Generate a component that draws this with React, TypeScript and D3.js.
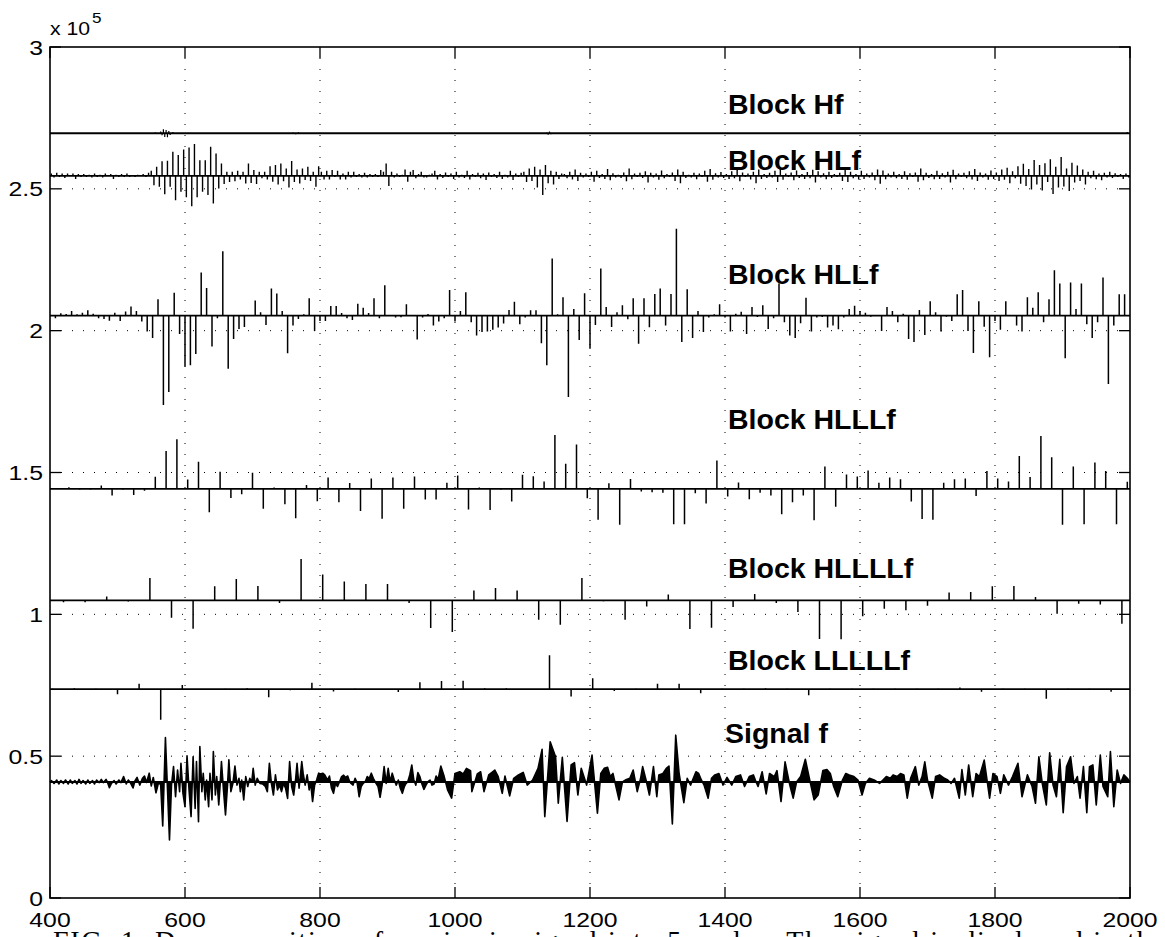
import * as d3 from 'd3';

// axis ranges
const xDomain = [400, 2000];
const yDomain = [0, 300000];
const xTicks = [400, 600, 800, 1000, 1200, 1400, 1600, 1800, 2000];
const yTicks = [0, 50000, 100000, 150000, 200000, 250000, 300000];
const yTickLabels = ['0', '0.5', '1', '1.5', '2', '2.5', '3'];

// offsets where each block is drawn
const blockBase = {
  hf: 269600,
  hlf: 254600,
  hllf: 205300,
  hlllf: 144200,
  hllllf: 104900,
  lllllf: 73600,
  signal: 40900,
};

// Block Hf: almost flat, only a few visible wiggles [x, value]
const hfSpikes = [
  [556, 300], [560, -300], [564, 600], [566, -700], [568, 1400], [570, -1300],
  [572, 1100], [574, -1400], [576, 800], [578, -600], [582, 400], [586, -300],
  [760, 300], [764, -350], [768, 350], [772, -300],
  [1136, 300], [1138, -500], [1140, 600], [1142, -400], [1996, 400],
];

// Block HLf coefficients, every 4 samples from 402, in thousands
const hlfStart = 402;
const hlfK = [
  0.8, -0.6, 1.1, -0.4, 0.8, -0.8, 0.8, -0.1, 0.8, -1.1, 0.6, -0.4, 0.6, -0.4, 0.4, -0.6, 0.8, -0.4, 0.4, -0.6,
  0.8, -0.1, 0.6, -1.1, 0.4, -0.4, 0.6, -0.4, 0.8, -0.4, 0.2, -0.4, 0.4, -0.1, 0.6, -0.4, 1.1, 1.8, -3.3, 3.2,
  -3.9, 5.1, -6.5, 5.3, -3.9, 8.5, -8.6, 7.3, -5.6, 9.3, -7.6, 10.0, -10.7, 11.2, -7.6, 5.5, -5.6, 5.5, -6.8, 10.2,
  -9.8, 7.9, -4.5, 4.3, -2.9, 1.4, -2.2, 1.4, -1.9, 1.8, -1.3, 1.4, -2.7, 4.3, -2.5, 2.0, -2.9, 1.4, -0.9, 1.4,
  -1.3, 3.4, -2.1, 3.8, -3.1, 4.3, -1.9, 2.6, -4.1, 5.2, -2.2, 2.2, -2.7, 2.6, -1.5, 3.2, -1.8, 1.4, -3.9, 3.4,
  1.4, -1.3, 1.8, -1.3, 2.0, -0.4, 1.8, -1.3, 0.8, -1.3, 1.4, -0.6, 1.4, -0.4, 0.6, -0.6, 1.1, -0.6, 0.6, -0.4,
  0.6, -0.4, 2.0, 1.4, 4.3, -3.6, 1.4, -0.6, 0.8, -0.4, 0.4, 2.2, -2.1, 1.4, 2.0, -0.9, 0.6, 1.4, -0.6, -0.6,
  0.4, 0.8, 1.8, -1.3,
  0.6, -0.8, 1.2, -0.4, 0.8, -1.1, 1.4, -0.6, 0.4, -0.8, 1.8, -1.3, 0.6, -0.4, 1.1, -0.9, 0.8, -1.5, 1.2, -0.4,
  0.6, -0.8, 1.4, -1.1, 0.4, -0.6, 1.8, -1.5, 0.8, -0.4, 1.1,
  1.4, -2.2, 2.6, -1.8, 3.2, -4.1, 2.2, -6.8, 3.8, -2.6, 1.8, -3.1, 1.4, -1.1, 0.8,
  0.6, -0.9, 1.4, -1.3, 2.2, -1.8, 1.1, -0.6, 0.8, -0.4, 1.4, -2.1, 1.8, -0.8, 0.6, -1.1, 2.4, -1.6, 0.9, -0.6,
  0.4, -0.8, 1.2, -1.9, 2.6, -1.2, 0.8, -0.4, 1.1, -0.8, 1.6, -2.4, 1.1, -0.6, 0.8, -1.4, 1.9, -0.9, 0.6, -0.4,
  1.2, -1.8, 2.2, -2.6, 1.4, -0.8, 0.4, -0.6, 1.1, -1.2, 0.8, -0.4, 1.8, -2.1, 2.4, -1.4, 0.9, -0.6, 1.3, -0.8,
  0.6, -1.1, 1.6, -0.9, 2.1, -1.9, 1.2, -0.4, 0.8, -1.3, 1.4, -2.6, 2.2, -1.1, 0.6, -0.8, 1.1, -0.6, 1.8, -2.2,
  2.6, -1.4, 0.8, -0.4, 1.2, -1.6, 1.9, -0.8, 0.6, -1.1, 1.3, -0.9, 2.1, -2.4, 1.6, -0.6, 0.9, -1.2, 1.4, -0.8,
  0.6, -0.4, 1.1, -1.8, 2.8, -2.2, 1.4, -0.9, 0.6, -1.3, 1.8, -1.1, 0.8, -0.6, 1.2, -1.6, 2.2, -2.8, 1.9, -1.2,
  0.8, -0.6, 1.4, -0.9, 0.6, -1.1, 1.6, -1.4, 0.9, -0.4, 1.2, -2.1, 2.6, -1.6, 1.1, -0.8, 0.6, -1.2, 1.8, -1.1,
  0.9, -0.6, 1.4, -2.4, 2.1, -1.2, 0.8, -0.4, 1.1, -0.9, 1.6, -1.3, 2.4, -1.8, 1.2, -0.6, 0.8, -1.4, 1.9, -1.1,
  1.2, -1.8, 2.2, -1.4, 2.8, -2.6, 1.6, -0.9, 3.4, -2.8, 4.2, -3.6, 2.4, -4.8, 5.6, -3.1, 3.8, -5.2, 4.4, -2.2,
  5.8, -6.4, 3.2, -4.1, 6.6, -3.8, 2.6, -5.4, 4.6, -2.4, 3.6, -1.8, 2.2, -3.1, 1.4, -0.9, 1.8, -1.2, 0.8, -1.6,
  1.1, -0.6, 1.4, -0.8, 0.9, -0.4, 0.6, -1.1, 0.8, -0.6,
];

// Block HLLf coefficients, every 8 samples from 408, in thousands
const hllfStart = 408;
const hllfK = [
  -0.9, 0.8, 0.6, 1.6, 0.5, 1.0, 1.9, 0.7, -0.9, -1.2, -1.8, 1.0, -1.9, 1.5, 3.2, 1.6, -2.1, -5.6, -7.9, 5.8,
  -31.5, -26.9, 8.1, -6.5, -17.9, -17.5, -13.5, 15.2, 9.7, -10.9, -0.9, 22.7, -18.7, -8.2, -4.7, -4.0, 0.2, 5.3, 1.2, -3.3,
  9.6, 7.8, 1.6, -13.3, -3.5, -1.2, 0.5, 6.1, -5.4, -1.9, -1.9, 3.4, 3.4, 0.9, -0.9, -1.5, 4.2, 2.8, 0.9, 6.1,
  -0.9, 10.7, 0.2, -0.7, -0.6, 4.0, 0.0, -8.4, -0.7, 0.6, -3.5, -2.1, -0.9, 9.0, -2.1, 1.6, 8.2, -2.3, -7.0, -5.8,
  -5.6, -5.0, -4.2, -2.8, 2.0, 4.9, -3.0, -0.7, 1.9, 1.9, -9.7, -17.5, 20.1, 0.5, 6.5, -28.7, 2.3, -8.6, 7.9, -11.7,
  -3.3, 16.6, 3.0, -4.0, 1.2, 3.7, -1.3, 6.1, -9.9, 6.1, -4.1, 7.6, 9.6, -3.5, 7.6, 30.6, -9.3, 9.3, -7.9, 1.6,
  -5.8, -0.7, 0.5, 4.0, -0.7, -5.6, 0.7, 1.4, -6.5, 3.0, -0.5, 3.7, -4.7, -0.9, 11.3, -2.3, -7.0, -7.9, -2.7, 6.3,
  -5.6, -0.7, -0.5, -4.2, -3.5, -4.8, -0.7, 2.3, 3.5, 1.6, 1.0, -0.4, 0.0, -5.4, 3.0, 1.6, -2.3, 0.7, -8.2, -9.3,
  2.0, -6.8, 5.1, 1.2, -5.6, -0.4, -1.9, 7.5, 9.0, -5.4, -13.2, 5.1, -3.9, -14.7, -1.9, -5.0, 5.1, 0.0, -3.5, -5.6,
  6.5, 2.8, 8.2, -2.3, 5.8, 16.0, 11.3, -15.0, 11.7, 2.3, 11.3, -3.0, -7.9, -2.3, 13.4, -24.1, -3.5, 7.5, 7.5,
];

// Block HLLLf coefficients, every 16 samples from 412, in thousands
const hlllfStart = 412;
const hlllfK = [
  0.1, 0.6, -0.2, -0.2, 1.2, -2.3, -0.2, -2.1, -0.6, 4.3, 13.4, 17.5, 3.3, 9.6, -8.2, 6.1, -3.2, -1.9, 5.7, -7.0,
  0.5, -5.4, -10.3, 1.4, -4.3, 4.0, -4.7, 2.1, -7.8, 3.7, -10.5, 4.0, -7.0, 4.4, -3.7, -3.7, 2.2, 4.7, -7.2, 0.5,
  -7.4, -0.2, -4.4, 5.0, 4.5, 2.6, 19.0, 8.9, 15.7, -3.3, -10.9, 2.0, -12.6, 3.5, -0.9, -1.2, -1.3, -12.4, -12.4, -1.5,
  -5.1, 10.0, -2.7, 2.3, -3.6, -1.3, -2.3, -8.9, -4.7, -2.3, -11.0, 7.9, -6.3, 5.1, 4.4, 6.5, 2.2, 4.0, 3.4, -4.4,
  -10.6, -10.9, 2.2, 3.4, 3.7, -2.5, 6.3, 3.7, 2.6, 11.6, 4.2, 18.7, 11.2, -12.6, 7.9, -12.4, 9.3, 6.3, -12.4, 2.5,
];

// Block HLLLLf coefficients, every 32 samples from 420, in thousands
const hllllfStart = 420;
const hllllfK = [
  -0.6, -0.6, 1.4, -0.4, 7.9, -6.1, -10.0, 5.0, 7.6, 5.1, -0.9, 14.6, 9.1, 6.7, 5.8, 5.8, -0.9, -9.7, -11.1, 3.5,
  4.4, 3.5, -6.8, -8.6, 7.9, -0.3, -6.8, -2.1, 2.1, -10.1, -9.6, -2.3, 2.3, -0.9, -4.1, -13.6, -13.7, -5.6, -2.9, -3.5,
  -1.9, 2.8, 3.0, 5.0, 5.1, 1.2, -4.7, -1.2, -1.4, -8.2,
];

// Block LLLLLf coefficients, every 32 samples from 404, in thousands
const lllllfStart = 404;
const lllllfK = [
  0.2, 0.3, 0.2, -1.8, 1.9, -10.8, 1.5, -0.3, 0.2, 0.3, -2.8, -0.4, 2.3, -0.8, 0.2, -0.2, -1.0, 2.5, 2.9, 3.0,
  0.3, 0.3, -0.3, 12.0, -2.6, 3.9, -0.6, 0.2, 1.9, 1.9, -1.4, 0.2, 0.2, 0.3, 0.2, -2.1, 0.2, 0.2, 0.2, 0.2,
  0.2, 0.2, 0.6, -0.9, 0.2, 0.2, -3.4, 0.2, 0.2, -0.9,
];

// Signal f: turning points [x, value]
const signalPeaks = [
  [400, 0], [402, 500], [406, -500], [410, 700], [413, -700], [416, 500], [420, -500], [423, 700], [427, -700], [430, 700],
  [433, -500], [437, 500], [440, -700], [443, 900], [446, -500], [449, 500], [453, -700], [456, 700], [459, -500], [463, 500],
  [466, -700], [469, 700], [473, -200], [476, 900], [479, -200], [483, 900], [485, 0], [488, -2000], [491, -500], [495, 500],
  [498, -700], [502, 700], [505, -200], [509, 1900], [513, -700], [516, 700], [519, -200], [523, -2100], [526, 500], [529, 1600],
  [533, -1100], [537, 1300], [540, 2100], [543, -200], [547, 3100], [550, -1400], [553, 1600], [557, -3800], [561, 0], [564, -1100],
  [567, -15500], [571, 15700], [574, -2200], [577, -20400], [580, -1100], [583, 5400], [586, -5200], [589, 4200], [592, -3400], [594, 6600],
  [597, -4000], [600, -8700], [603, 9200], [606, -2800], [609, -12200], [612, 8900], [615, -9300], [617, 7200], [620, -14000], [622, 12500],
  [625, -3400], [627, 3100], [630, -6300], [632, 700], [635, -8700], [637, 3100], [640, -6300], [642, 10700], [645, -4600], [647, 1900],
  [650, -8100], [652, -1100], [654, 7200], [657, -2800], [660, -11600], [663, -1100], [665, 7800], [668, -3400], [671, -500], [674, 5600],
  [677, -1100], [680, 1300], [682, -3400], [684, 700], [687, -6300], [690, 1900], [693, -1600], [696, 1300], [699, 100], [701, 4800],
  [704, -1100], [707, 1300], [711, -500], [715, -700], [719, -1600], [722, -3400], [725, 6600], [728, -500], [731, -4600], [734, 2500],
  [737, -2800], [740, -1100], [743, -3400], [746, -500], [749, -2200], [752, -5800], [755, 7200], [758, -1600], [761, -4600], [764, 1300],
  [766, 6600], [769, -2200], [773, 7200], [775, 3100], [778, -1100], [781, 2500], [784, -2800], [786, 100], [789, -6900], [792, -1100],
  [795, 700], [798, 3100], [801, 2800], [804, 3100], [807, 2500], [811, 700], [814, 2100], [817, -2200], [820, -4000], [823, -500],
  [826, -1600], [829, 100], [832, 1900], [835, 2400], [838, 1600], [841, 2100], [844, 100], [846, -500], [849, -1100], [852, 1300],
  [855, -200], [858, -5200], [861, -1600], [864, -500], [867, 100], [870, 1900], [873, 1300], [876, 3100], [879, 1300], [883, -500],
  [886, -1600], [889, -5400], [892, -1100], [895, 5400], [898, -500], [901, 4800], [904, 0], [907, 3100], [910, 700], [913, -1100],
  [916, 700], [919, -2200], [922, -4000], [925, -1600], [927, -700], [930, 100], [933, 2500], [936, 6000], [939, 700], [942, -1100],
  [945, 3300], [948, 1900], [951, -700], [954, -2600], [957, -1100], [960, 100], [963, 700], [966, -1100], [969, -700], [972, 2100],
  [975, 900], [979, 5600], [984, 1900], [989, -2800], [995, -5700], [1000, 3000], [1007, 3600], [1012, 2800], [1017, 4800], [1023, 4000],
  [1025, -3400], [1033, 2800], [1038, 3600], [1043, -3400], [1050, 2500], [1059, 4200], [1064, 1900], [1070, -4000], [1074, 2100], [1081, -4900],
  [1087, 1300], [1094, 2500], [1101, 3400], [1107, -1100], [1115, 700], [1123, 4800], [1129, 11500], [1133, -12200], [1141, 14200], [1149, 8900],
  [1153, -7500], [1159, 8700], [1166, -13900], [1172, 6000], [1177, 6800], [1182, -4600], [1187, 4800], [1195, -1100], [1203, 9500], [1211, -11000],
  [1216, 3000], [1221, 4800], [1226, 5200], [1230, 1900], [1234, 3000], [1243, -6300], [1248, 0], [1254, 900], [1259, 1300], [1264, 4200],
  [1270, -3400], [1275, 1300], [1278, 5400], [1283, 700], [1288, -4600], [1294, 5400], [1299, -5200], [1302, 2500], [1308, 3000], [1313, 4800],
  [1317, 5600], [1322, -14800], [1327, 16500], [1332, 3000], [1339, -7300], [1344, 1300], [1349, -1100], [1357, 3600], [1361, 3000], [1365, 700],
  [1369, -1100], [1375, -5700], [1380, 1300], [1385, 2500], [1391, 3000], [1397, -1100], [1403, 1600], [1410, -1100], [1416, 1900], [1423, 2500],
  [1429, -1600], [1436, 1900], [1442, 2500], [1446, 0], [1449, -1600], [1455, 3600], [1461, -4200], [1466, 3000], [1473, 1900], [1477, 4000],
  [1483, -6900], [1489, 7100], [1496, -1100], [1501, -5700], [1506, 0], [1512, 1900], [1519, 8000], [1525, 1300], [1532, -6300], [1538, -4600],
  [1545, 4000], [1551, 4400], [1556, 3000], [1561, -1600], [1567, -5200], [1574, 700], [1579, 3000], [1584, 2500], [1591, 1900], [1597, 700],
  [1603, -4600], [1608, -500], [1614, 1300], [1621, 700], [1629, -500], [1634, 700], [1639, 1900], [1645, 1300], [1649, 2500], [1655, 1900],
  [1660, 3000], [1665, 2500], [1670, -5700], [1675, 1300], [1682, 5400], [1687, -1100], [1692, 1900], [1696, 7100], [1700, 700], [1707, -5700],
  [1712, 1900], [1718, 2500], [1725, 1300], [1730, 700], [1735, -500], [1740, 1300], [1747, -5700], [1751, 4400], [1756, -4600], [1761, 6000],
  [1767, -5200], [1772, 3000], [1777, 1900], [1784, 7700], [1792, -5700], [1797, 3000], [1803, 1900], [1808, -4000], [1813, 2500], [1820, -1100],
  [1826, 1900], [1834, 6600], [1840, -5200], [1848, 2500], [1855, -1600], [1860, -7500], [1865, 8900], [1870, -500], [1876, -8100], [1881, 10300],
  [1886, -1100], [1891, -5200], [1896, 8000], [1901, -10800], [1906, 5400], [1912, 8900], [1917, -500], [1922, 1900], [1926, -5700], [1931, 5400],
  [1936, -10800], [1940, 5400], [1945, 6000], [1950, -8100], [1956, 9500], [1960, -1600], [1967, -5200], [1971, 10700], [1976, -8700], [1981, 4200],
  [1986, -500], [1991, 2500], [1996, 1300], [2000, 0],
];

const labels = [
  { text: 'Block Hf', x: 728, y: 114 },
  { text: 'Block HLf', x: 728, y: 170 },
  { text: 'Block HLLf', x: 728, y: 284 },
  { text: 'Block HLLLf', x: 728, y: 429 },
  { text: 'Block HLLLLf', x: 728, y: 578 },
  { text: 'Block LLLLLf', x: 728, y: 670 },
  { text: 'Signal f', x: 725, y: 743 },
];

const left = 50;
const right = 1130;
const top = 47;
const bottom = 898;

const x = d3.scaleLinear().domain(xDomain).range([left, right]);
const y = d3.scaleLinear().domain(yDomain).range([bottom, top]);

const stems = (start, step, values, base) =>
  values
    .map((v, i) => `M${x(start + i * step)},${y(base)}V${y(base + v * 1000)}`)
    .join('');

// tick labels in the original are a touch wider than Helvetica
const Wide = ({ x: tx, y: ty, anchor = 'start', size = 21, children }) => (
  <text transform={`translate(${tx},${ty}) scale(1.18,1)`} textAnchor={anchor} fontSize={size}>
    {children}
  </text>
);

const App = () => {
  const tickLen = 11;
  const signalArea = d3
    .area()
    .x((d) => x(d[0]))
    .y0(y(blockBase.signal))
    .y1((d) => y(blockBase.signal + d[1]));
  const signalLine = d3
    .line()
    .x((d) => x(d[0]))
    .y((d) => y(blockBase.signal + d[1]));

  const hfPath = hfSpikes.map(([sx, v]) => `M${x(sx)},${y(blockBase.hf)}V${y(blockBase.hf + v)}`).join('');

  return (
    <svg
      width={1165}
      height={937}
      viewBox="0 0 1165 937"
      style={{ position: 'absolute', left: 0, top: 0, background: '#fff' }}
      fontFamily="'Liberation Sans', Arial, sans-serif"
    >
      <rect x={0} y={0} width={1165} height={937} fill="#fff" />

      {/* dotted grid */}
      <g stroke="#000" strokeWidth={1} strokeDasharray="1 10">
        {xTicks.slice(1, -1).map((t) => (
          <line key={'gx' + t} x1={x(t)} x2={x(t)} y1={top + tickLen} y2={bottom - tickLen} />
        ))}
        {yTicks.slice(1, -1).map((t) => (
          <line key={'gy' + t} x1={left + tickLen} x2={right - tickLen} y1={y(t)} y2={y(t)} />
        ))}
      </g>

      {/* block baselines */}
      <g stroke="#000" strokeWidth={1.8}>
        {Object.entries(blockBase).map(([k, b]) => (
          <line key={k} x1={left} x2={right} y1={y(b)} y2={y(b)} />
        ))}
      </g>

      {/* coefficient stems */}
      <g stroke="#000" strokeWidth={1.5} fill="none">
        <path d={hfPath} strokeWidth={1.2} />
        <path d={stems(hlfStart, 4, hlfK, blockBase.hlf)} strokeWidth={1.4} />
        <path d={stems(hllfStart, 8, hllfK, blockBase.hllf)} />
        <path d={stems(hlllfStart, 16, hlllfK, blockBase.hlllf)} />
        <path d={stems(hllllfStart, 32, hllllfK, blockBase.hllllf)} />
        <path d={stems(lllllfStart, 32, lllllfK, blockBase.lllllf)} />
      </g>

      {/* signal */}
      <path d={signalArea(signalPeaks)} fill="#000" />
      <path d={signalLine(signalPeaks)} fill="none" stroke="#000" strokeWidth={1.6} strokeLinejoin="round" />

      {/* labels */}
      <g fontWeight="bold" fontSize={28.5} fill="#000">
        {labels.map((l) => (
          <text key={l.text} x={l.x} y={l.y}>
            {l.text}
          </text>
        ))}
      </g>

      {/* axes box and ticks */}
      <rect x={left} y={top} width={right - left} height={bottom - top} fill="none" stroke="#000" strokeWidth={1.6} />
      <g stroke="#000" strokeWidth={1.3}>
        {xTicks.map((t) => (
          <g key={'tx' + t}>
            <line x1={x(t)} x2={x(t)} y1={bottom} y2={bottom - tickLen} />
            <line x1={x(t)} x2={x(t)} y1={top} y2={top + tickLen} />
          </g>
        ))}
        {yTicks.map((t) => (
          <g key={'ty' + t}>
            <line x1={left} x2={left + tickLen} y1={y(t)} y2={y(t)} />
            <line x1={right} x2={right - tickLen} y1={y(t)} y2={y(t)} />
          </g>
        ))}
      </g>

      <g fill="#000">
        {xTicks.map((t) => (
          <Wide key={'lx' + t} x={x(t)} y={926.5} anchor="middle">
            {t}
          </Wide>
        ))}
        {yTicks.map((t, i) => (
          <Wide key={'ly' + t} x={43} y={y(t) + 7.5} anchor="end">
            {yTickLabels[i]}
          </Wide>
        ))}
        <Wide x={50} y={35} size={18}>x 10</Wide>
        <Wide x={92} y={23} size={14.5}>5</Wide>
      </g>

      <text
        x={53}
        y={950}
        fontFamily="'Liberation Serif', 'DejaVu Serif', serif"
        fontSize={28}
        textLength={1112}
        lengthAdjust="spacing"
      >
        FIG. 1: Decomposition of a seismic signal into 5 scales. The signal is displayed in the
      </text>
    </svg>
  );
};

export default App;
